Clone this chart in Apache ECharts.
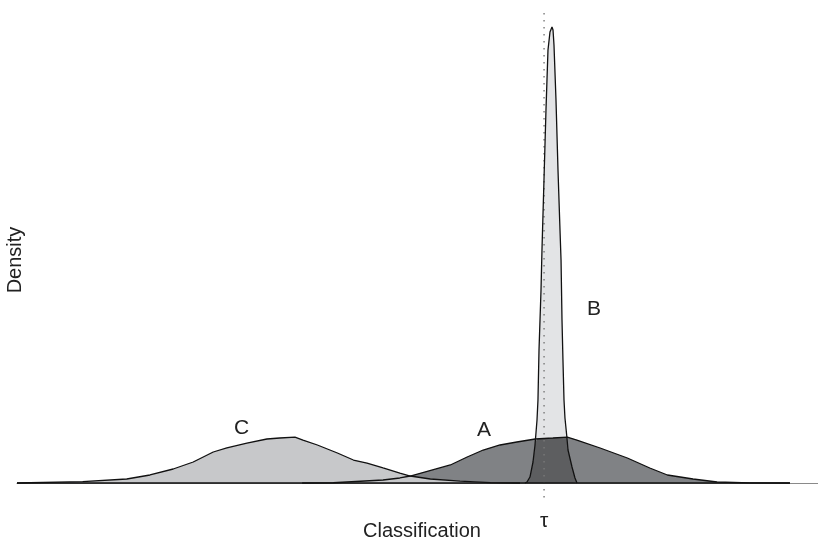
<!DOCTYPE html>
<html>
<head>
<meta charset="utf-8">
<script src="https://cdn.jsdelivr.net/npm/echarts@6/dist/echarts.min.js"></script>
<style>html,body{margin:0;padding:0;background:#fff}#c{width:818px;height:541px}</style>
</head>
<body>
<div id="c"></div>
<script>
// Density curves (x: classification score, y: density)
const cX = [0, 8.2, 13.7, 16.6, 19.5, 22.0, 24.5, 26.2, 28.7, 31.2, 32.8, 34.7, 35.7, 37.5, 40.0, 42.0, 43.7, 45.7, 47.8, 49.1, 51.6, 55.3, 59.1, 62.8];
const cY = [0, 0.27, 0.83, 1.66, 2.9, 4.35, 6.42, 7.25, 8.28, 9.11, 9.32, 9.52, 8.9, 7.87, 6.21, 4.76, 4.14, 3.11, 2.07, 1.45, 0.83, 0.41, 0.1, 0];
const aX = [35.6, 39.5, 45.7, 47.8, 49.1, 54.1, 56.2, 58.2, 60.3, 62.4, 64.7, 66.9, 68.7, 69.9, 72.8, 76.2, 79.0, 81.2, 84.4, 87.4, 91.5, 96.5];
const aY = [0, 0.05, 0.62, 1.04, 1.45, 3.73, 5.38, 6.83, 7.87, 8.49, 9.11, 9.32, 9.52, 8.9, 7.25, 5.18, 3.11, 1.66, 0.83, 0.21, 0.03, 0];
const bX = [63.42, 63.67, 64.04, 64.42, 64.67, 64.92, 65.04, 65.17, 65.42, 65.54, 65.79, 66.04, 66.29, 66.54, 66.79, 66.92, 67.04, 67.29, 67.54, 67.79, 67.92, 68.04, 68.16, 68.29, 68.41, 68.66, 68.79, 69.29, 69.66, 69.91];
const bY = [0, 0.21, 1.24, 4.35, 7.87, 13.04, 17.18, 27.54, 39.96, 48.24, 62.73, 77.23, 89.65, 93.37, 94.41, 93.79, 90.68, 79.3, 64.8, 52.38, 46.17, 33.75, 25.47, 17.18, 13.46, 9.32, 6.83, 3.31, 1.04, 0];
const tau = 65.8;
const labelNames = ['C', 'A', 'B'];
const labelX = [28.05, 58.3, 72.03];
const labelY = [11.3, 10.97, 35.9];
const xTitle = 'Classification';
const yTitle = 'Density';
const tauLabel = 'τ';

function pairs(xs, ys) { return xs.map((x, i) => [x, ys[i]]); }
function interp(xs, ys, x) {
  if (x <= xs[0] || x >= xs[xs.length - 1]) return 0;
  for (let i = 1; i < xs.length; i++) {
    if (x <= xs[i]) {
      const t = (x - xs[i - 1]) / (xs[i] - xs[i - 1]);
      return ys[i - 1] + t * (ys[i] - ys[i - 1]);
    }
  }
  return 0;
}
// overlap of A and B
const ovX = bX.concat(aX.filter(x => x > bX[0] && x < bX[bX.length - 1])).sort((p, q) => p - q);
const overlap = ovX.map(x => [x, Math.min(interp(bX, bY, x), interp(aX, aY, x))]);

const FONT = 'Liberation Sans, Arial, Helvetica, sans-serif';
function areaSeries(data, color, z) {
  return { type: 'line', data, showSymbol: false, symbol: 'none', smooth: false, z,
    lineStyle: { width: 0, opacity: 0 }, areaStyle: { color, opacity: 1 }, silent: true, animation: false };
}
function lineSeries(data, z) {
  return { type: 'line', data, showSymbol: false, symbol: 'none', smooth: false, z,
    lineStyle: { width: 1.3, color: '#111' }, silent: true, animation: false };
}

const chart = echarts.init(document.getElementById('c'), null, { renderer: 'canvas' });
chart.setOption({
  animation: false,
  backgroundColor: '#fff',
  grid: { left: 17, right: 0, top: 0, bottom: 43.5, containLabel: false },
  xAxis: { type: 'value', min: 0, max: 100,
    axisLine: { show: true, onZero: true, lineStyle: { color: '#8a8a8a', width: 1.2 } },
    axisTick: { show: false }, axisLabel: { show: false }, splitLine: { show: false } },
  yAxis: { type: 'value', min: -3, max: 100, show: false, splitLine: { show: false } },
  series: [
    areaSeries(pairs(aX, aY), '#808285', 2),
    areaSeries(pairs(cX, cY), '#c7c8ca', 3),
    areaSeries(pairs(bX, bY), '#e3e4e6', 4),
    areaSeries(overlap, '#5d5e60', 5),
    { type: 'line', data: [[tau, -3], [tau, 98.3]], showSymbol: false, symbol: 'none', z: 6,
      lineStyle: { color: '#7a7a7a', width: 1.4, type: [1.4, 5.6] }, silent: true, animation: false },
    { type: 'line', data: [[cX[0], 0], [aX[aX.length - 1], 0]], showSymbol: false, symbol: 'none', z: 7,
      lineStyle: { width: 1.6, color: '#111' }, silent: true, animation: false },
    lineSeries(pairs(aX, aY), 8),
    lineSeries(pairs(cX, cY), 8),
    lineSeries(pairs(bX, bY), 8)
  ]
});

const g = [];
labelNames.forEach((n, i) => {
  const p = chart.convertToPixel({ gridIndex: 0 }, [labelX[i], labelY[i]]);
  g.push({ type: 'text', x: p[0], y: p[1], style: { text: n, font: '21px ' + FONT, fill: '#222', align: 'center', verticalAlign: 'middle' } });
});
const tp = chart.convertToPixel({ gridIndex: 0 }, [tau, 0]);
g.push({ type: 'text', x: tp[0], y: tp[1] + 38, style: { text: tauLabel, font: '21px ' + FONT, fill: '#222', align: 'center', verticalAlign: 'middle' } });
g.push({ type: 'text', x: 422, y: 531, style: { text: xTitle, font: '20px ' + FONT, fill: '#222', align: 'center', verticalAlign: 'middle' } });
g.push({ type: 'text', x: 15, y: 260, rotation: Math.PI / 2, style: { text: yTitle, font: '20px ' + FONT, fill: '#222', align: 'center', verticalAlign: 'middle' } });
chart.setOption({ graphic: g });
</script>
</body>
</html>
